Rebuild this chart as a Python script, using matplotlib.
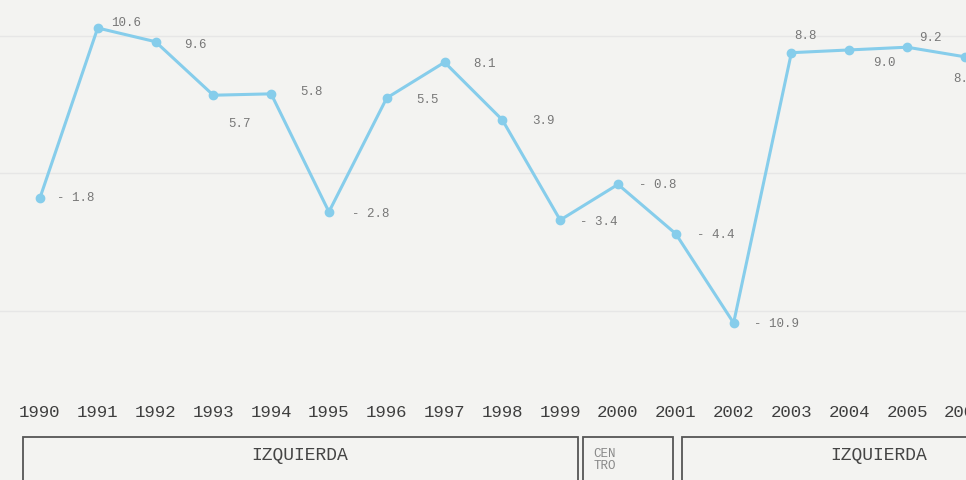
import numpy as np
import matplotlib.pyplot as plt
from matplotlib.patches import Rectangle
import matplotlib.transforms as mtransforms

# crecimiento del PIB (%) por año
years = [1990, 1991, 1992, 1993, 1994, 1995, 1996, 1997, 1998,
         1999, 2000, 2001, 2002, 2003, 2004, 2005, 2006]
growth = [-1.8, 10.6, 9.6, 5.7, 5.8, -2.8, 5.5, 8.1, 3.9,
          -3.4, -0.8, -4.4, -10.9, 8.8, 9.0, 9.2, 8.5]

# etiquetas de los periodos (texto, año inicio, año fin)
period_names = ["IZQUIERDA", "CEN\nTRO", "IZQUIERDA"]
period_start = [1989.7, 1999.4, 2001.1]
period_end = [1999.3, 2000.95, 2007.5]

# posicion de cada etiqueta respecto a su punto (pixeles)
label_off = [(17, 0), (13, 5), (29, -3), (15, -29), (29, 2), (23, -2),
             (30, -2), (29, -2), (30, -1), (20, -2), (21, -1), (21, -1),
             (20, -1), (3, 17), (24, -13), (12, 9), (-12, -22)]

bg = '#f3f3f1'
blue = '#86cdeb'

fig = plt.figure(figsize=(9.66, 4.8), dpi=100, facecolor=bg)
ax = fig.add_axes([0, 1 - 395 / 480, 1, 395 / 480])
ax.set_facecolor(bg)

ax.plot(years, growth, '-o', color=blue, lw=2.2, ms=6, zorder=3)

for y, v, off in zip(years, growth, label_off):
    txt = f"- {abs(v):.1f}" if v < 0 else f"{v:.1f}"
    ax.annotate(txt, (y, v), xytext=off, textcoords='offset pixels',
                ha='left', va='center', fontsize=9,
                family='Liberation Mono', color='#777777')

ax.set_xlim(1989.31, 2006.02)
ax.set_ylim(-16.15, 12.64)
for g in (10, 0, -10):
    ax.axhline(g, color='#e6e6e6', lw=1, zorder=1)

ax.set_yticks([])
ax.set_xticks(years)
ax.set_xticklabels([str(y) for y in years], family='Liberation Mono',
                   fontsize=12.5, color='#3e3e3e')
ax.tick_params(axis='x', length=0, pad=7)
for s in ax.spines.values():
    s.set_visible(False)

# cajas de periodos: x en datos, y en figura
trans = mtransforms.blended_transform_factory(ax.transData, fig.transFigure)
box_bottom = -0.1
box_top = 1 - 437 / 480
for name, x0, x1 in zip(period_names, period_start, period_end):
    fig.patches.append(Rectangle((x0, box_bottom), x1 - x0, box_top - box_bottom,
                                 transform=trans, fill=False,
                                 edgecolor='#555555', lw=1.3))
    if "\n" in name:
        fig.text(x0 + 0.17, 1 - 460 / 480, name, transform=trans,
                 ha='left', va='center', fontsize=9, linespacing=1.05,
                 family='Liberation Mono', color='#888888')
    else:
        xc = (x0 + x1) / 2 if x1 < 2006 else 2004.5
        fig.text(xc, 1 - 456 / 480, name, transform=trans,
                 ha='center', va='center', fontsize=13,
                 family='Liberation Mono', color='#444444')

fig.savefig('out.png', dpi=100, facecolor=bg)
